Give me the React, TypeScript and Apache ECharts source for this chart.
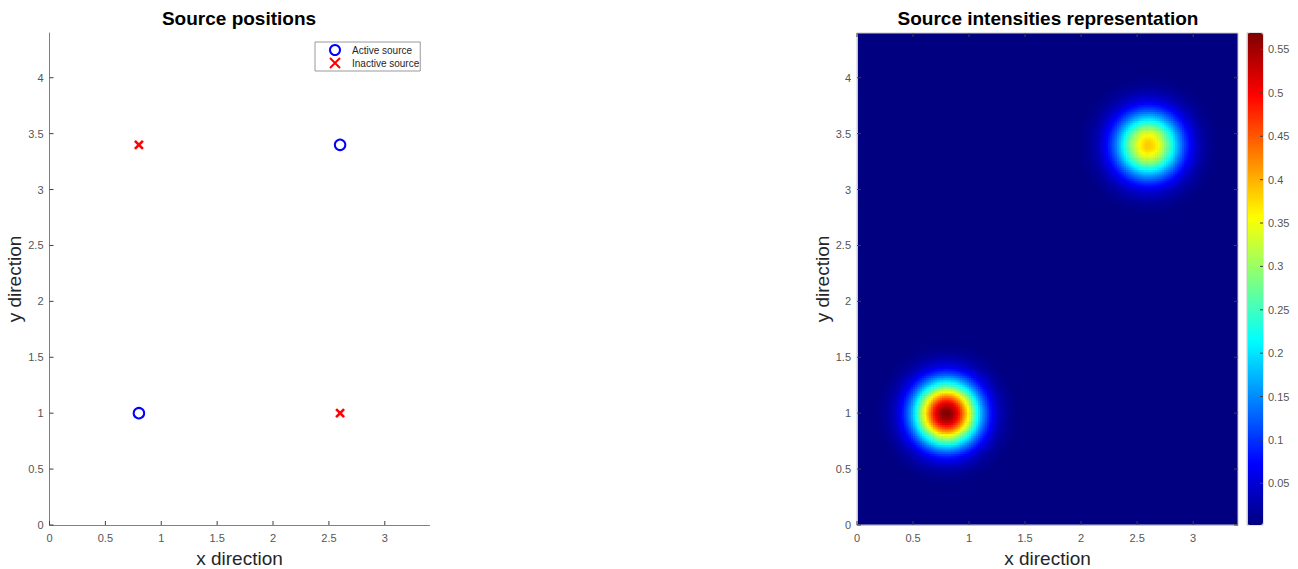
import React, { useEffect, useRef } from "react";
import * as echarts from "echarts";

// ---- Data ----
const ACTIVE_X = [0.8, 2.6];
const ACTIVE_Y = [1.0, 3.4];
const INACTIVE_X = [0.8, 2.6];
const INACTIVE_Y = [3.4, 1.0];

// Intensity field: one smooth bump per active source
const SOURCE_X = [0.8, 2.6];
const SOURCE_Y = [1.0, 3.4];
const SOURCE_PEAK = [0.569, 0.385];
const SOURCE_SIGMA = [0.2, 0.205];

const INTENSITY_MIN = 0.002;
const INTENSITY_MAX = 0.569;

const X_MAX = 3.4;
const Y_MAX = 4.4;
const X_TICKS = [0, 0.5, 1, 1.5, 2, 2.5, 3];
const Y_TICKS = [0, 0.5, 1, 1.5, 2, 2.5, 3, 3.5, 4];
const COLORBAR_TICKS = [0.05, 0.1, 0.15, 0.2, 0.25, 0.3, 0.35, 0.4, 0.45, 0.5, 0.55];

const JET = [
  "#000080",
  "#0000ff",
  "#0080ff",
  "#00ffff",
  "#80ff80",
  "#ffff00",
  "#ff8000",
  "#ff0000",
  "#800000",
];

const CELL = 0.02;

function buildField(): number[][] {
  const nx = Math.round(X_MAX / CELL);
  const ny = Math.round(Y_MAX / CELL);
  const out: number[][] = [];
  for (let i = 0; i < nx; i++) {
    const x = (i + 0.5) * CELL;
    for (let j = 0; j < ny; j++) {
      const y = (j + 0.5) * CELL;
      let v = 0;
      for (let k = 0; k < SOURCE_X.length; k++) {
        const dx = x - SOURCE_X[k];
        const dy = y - SOURCE_Y[k];
        const s = SOURCE_SIGMA[k];
        v += SOURCE_PEAK[k] * Math.exp(-(dx * dx + dy * dy) / (2 * s * s));
      }
      v = Math.max(INTENSITY_MIN, Math.min(INTENSITY_MAX, v));
      if (v > 0.0035) out.push([x, y, v]);
    }
  }
  return out;
}

// tick table: [value, edge] with edge 0 = bottom, 1 = top, 2 = left, 3 = right
function tickTable(xTicks: number[], yTicks: number[], edges: number[]): number[][] {
  const rows: number[][] = [];
  edges.forEach((e) => {
    const vals = e < 2 ? xTicks : yTicks;
    vals.forEach((v) => rows.push([v, e]));
  });
  return rows;
}

const FONT = "'Liberation Sans', Arial, Helvetica, sans-serif";
const LABEL_COLOR = "#555555";
const AXIS_COLOR = "#808080";
const BOX_COLOR = "#c8c8c8";
const TICK_COLOR = "#404040";
const NAME_COLOR = "#262626";

const X_MARK = "path://M0,0L10,10M0,10L10,0";

// plot rectangles
const L_PLOT = { left: 49.5, top: 33, width: 380, height: 492 };
const R_PLOT = { left: 857, top: 33, width: 381, height: 492 };
const CBAR = { left: 1247, top: 33, width: 16, height: 492 };

export default function App() {
  const ref = useRef<HTMLDivElement>(null);

  useEffect(() => {
    if (!ref.current) return;
    const chart = echarts.init(ref.current, undefined, { renderer: "svg" });
    const field = buildField();

    const labelStyle = (vals: number[], margin: number) => ({
      customValues: vals,
      color: LABEL_COLOR,
      fontSize: 11,
      fontFamily: FONT,
      margin,
    });
    const nameStyle = { fontSize: 19, color: NAME_COLOR, fontFamily: FONT };

    const labelX = (gridIndex: number, lineColor: string) => ({
      type: "value",
      gridIndex,
      min: 0,
      max: X_MAX,
      position: "bottom",
      name: "x direction",
      nameLocation: "middle",
      nameGap: 24,
      nameTextStyle: nameStyle,
      axisLine: { show: true, lineStyle: { color: lineColor, width: 1 } },
      axisTick: { show: false },
      axisLabel: labelStyle(X_TICKS, 7),
      splitLine: { show: false },
      z: 10,
    });
    const labelY = (gridIndex: number, lineColor: string) => ({
      type: "value",
      gridIndex,
      min: 0,
      max: Y_MAX,
      position: "left",
      name: "y direction",
      nameLocation: "middle",
      nameGap: 25,
      nameTextStyle: nameStyle,
      axisLine: { show: true, lineStyle: { color: lineColor, width: 1 } },
      axisTick: { show: false },
      axisLabel: labelStyle(Y_TICKS, 6),
      splitLine: { show: false },
      z: 10,
    });

    const G = (r: any, extra: any = {}) => ({
      ...r,
      containLabel: false,
      outerBoundsMode: "none",
      ...extra,
    });

    // inward-pointing ticks, drawn through the axes' own scales
    const tickSeries = (axisIndex: number, data: number[][], len: number) => ({
      type: "custom",
      xAxisIndex: axisIndex,
      yAxisIndex: axisIndex,
      clip: false,
      silent: true,
      z: 20,
      encode: { tooltip: [0] },
      data,
      renderItem: (params: any, api: any) => {
        const v = api.value(0);
        const edge = api.value(1);
        const cs = params.coordSys;
        const x0 = cs.x;
        const y0 = cs.y;
        const x1 = cs.x + cs.width;
        const y1 = cs.y + cs.height;
        let shape: any;
        if (edge < 2) {
          const px = api.coord([v, 0])[0];
          shape = edge === 0 ? { x1: px, y1: y1, x2: px, y2: y1 - len } : { x1: px, y1: y0, x2: px, y2: y0 + len };
        } else {
          const py = api.coord([0, v])[1];
          shape = edge === 2 ? { x1: x0, y1: py, x2: x0 + len, y2: py } : { x1: x1, y1: py, x2: x1 - len, y2: py };
        }
        return { type: "line", shape, style: { stroke: TICK_COLOR, lineWidth: 1 } };
      },
    });

    const option: any = {
      animation: false,
      textStyle: { fontFamily: FONT },
      title: [
        {
          text: "Source positions",
          left: 239,
          top: 9,
          textAlign: "center",
          padding: 0,
          textStyle: { fontSize: 19, fontWeight: "bold", color: "#000", fontFamily: FONT },
        },
        {
          text: "Source intensities representation",
          left: 1048,
          top: 9,
          textAlign: "center",
          padding: 0,
          textStyle: { fontSize: 19, fontWeight: "bold", color: "#000", fontFamily: FONT },
        },
      ],
      legend: {
        data: ["Active source", "Inactive source"],
        orient: "vertical",
        left: 315,
        top: 42,
        padding: [2, 1, 2, 14],
        itemGap: 1,
        itemWidth: 24,
        itemHeight: 10,
        borderColor: "#999",
        borderWidth: 1,
        backgroundColor: "#fff",
        textStyle: { fontSize: 10, color: "#262626", fontFamily: FONT },
        selectedMode: false,
      },
      grid: [
        G(L_PLOT),
        G(R_PLOT, { show: true, backgroundColor: JET[0], borderColor: BOX_COLOR, borderWidth: 1 }),
        G(CBAR, { show: true, backgroundColor: "transparent", borderColor: BOX_COLOR, borderWidth: 1 }),
      ],
      xAxis: [
        labelX(0, AXIS_COLOR),
        labelX(1, BOX_COLOR),
        { type: "value", gridIndex: 2, show: false, min: 0, max: 1 },
      ],
      yAxis: [
        labelY(0, AXIS_COLOR),
        labelY(1, BOX_COLOR),
        {
          type: "value",
          gridIndex: 2,
          min: INTENSITY_MIN,
          max: INTENSITY_MAX,
          position: "right",
          axisLine: { show: true, lineStyle: { color: BOX_COLOR } },
          axisTick: { show: false },
          axisLabel: labelStyle(COLORBAR_TICKS, 5),
          splitLine: { show: false },
          z: 10,
        },
      ],
      visualMap: {
        type: "continuous",
        seriesIndex: 2,
        dimension: 2,
        min: INTENSITY_MIN,
        max: INTENSITY_MAX,
        inRange: { color: JET },
        calculable: false,
        realtime: false,
        hoverLink: false,
        left: CBAR.left,
        top: CBAR.top,
        itemWidth: CBAR.width,
        itemHeight: CBAR.height,
        padding: 0,
        text: null,
        showLabel: false,
        orient: "vertical",
      },
      series: [
        {
          name: "Active source",
          type: "scatter",
          xAxisIndex: 0,
          yAxisIndex: 0,
          symbol: "emptyCircle",
          symbolSize: 10.5,
          itemStyle: { color: "#0000ff", borderColor: "#0000ff", borderWidth: 2.6, opacity: 1 },
          data: ACTIVE_X.map((x, i) => [x, ACTIVE_Y[i]]),
          z: 5,
        },
        {
          name: "Inactive source",
          type: "scatter",
          xAxisIndex: 0,
          yAxisIndex: 0,
          symbol: X_MARK,
          symbolSize: 8,
          itemStyle: { color: "#ff0000", borderColor: "#ff0000", borderWidth: 2.6, opacity: 1 },
          data: INACTIVE_X.map((x, i) => [x, INACTIVE_Y[i]]),
          z: 5,
        },
        {
          name: "Intensity",
          type: "custom",
          xAxisIndex: 1,
          yAxisIndex: 1,
          clip: true,
          silent: true,
          encode: { x: 0, y: 1 },
          data: field,
          renderItem: (_params: any, api: any) => {
            const x = api.value(0);
            const y = api.value(1);
            const p0 = api.coord([x - CELL / 2, y + CELL / 2]);
            const p1 = api.coord([x + CELL / 2, y - CELL / 2]);
            return {
              type: "rect",
              shape: {
                x: p0[0],
                y: p0[1],
                width: p1[0] - p0[0] + 0.6,
                height: p1[1] - p0[1] + 0.6,
              },
              style: { fill: api.visual("color") },
            };
          },
        },
        tickSeries(0, tickTable(X_TICKS, Y_TICKS, [0, 2]), 4),
        tickSeries(1, tickTable(X_TICKS, Y_TICKS, [0, 1, 2, 3]), 4),
        tickSeries(2, tickTable([], COLORBAR_TICKS, [3]), 3),
      ],
    };

    chart.setOption(option);
    return () => chart.dispose();
  }, []);

  return (
    <div
      ref={ref}
      style={{ position: "fixed", left: 0, top: 0, width: 1298, height: 569, background: "#fff" }}
    />
  );
}
